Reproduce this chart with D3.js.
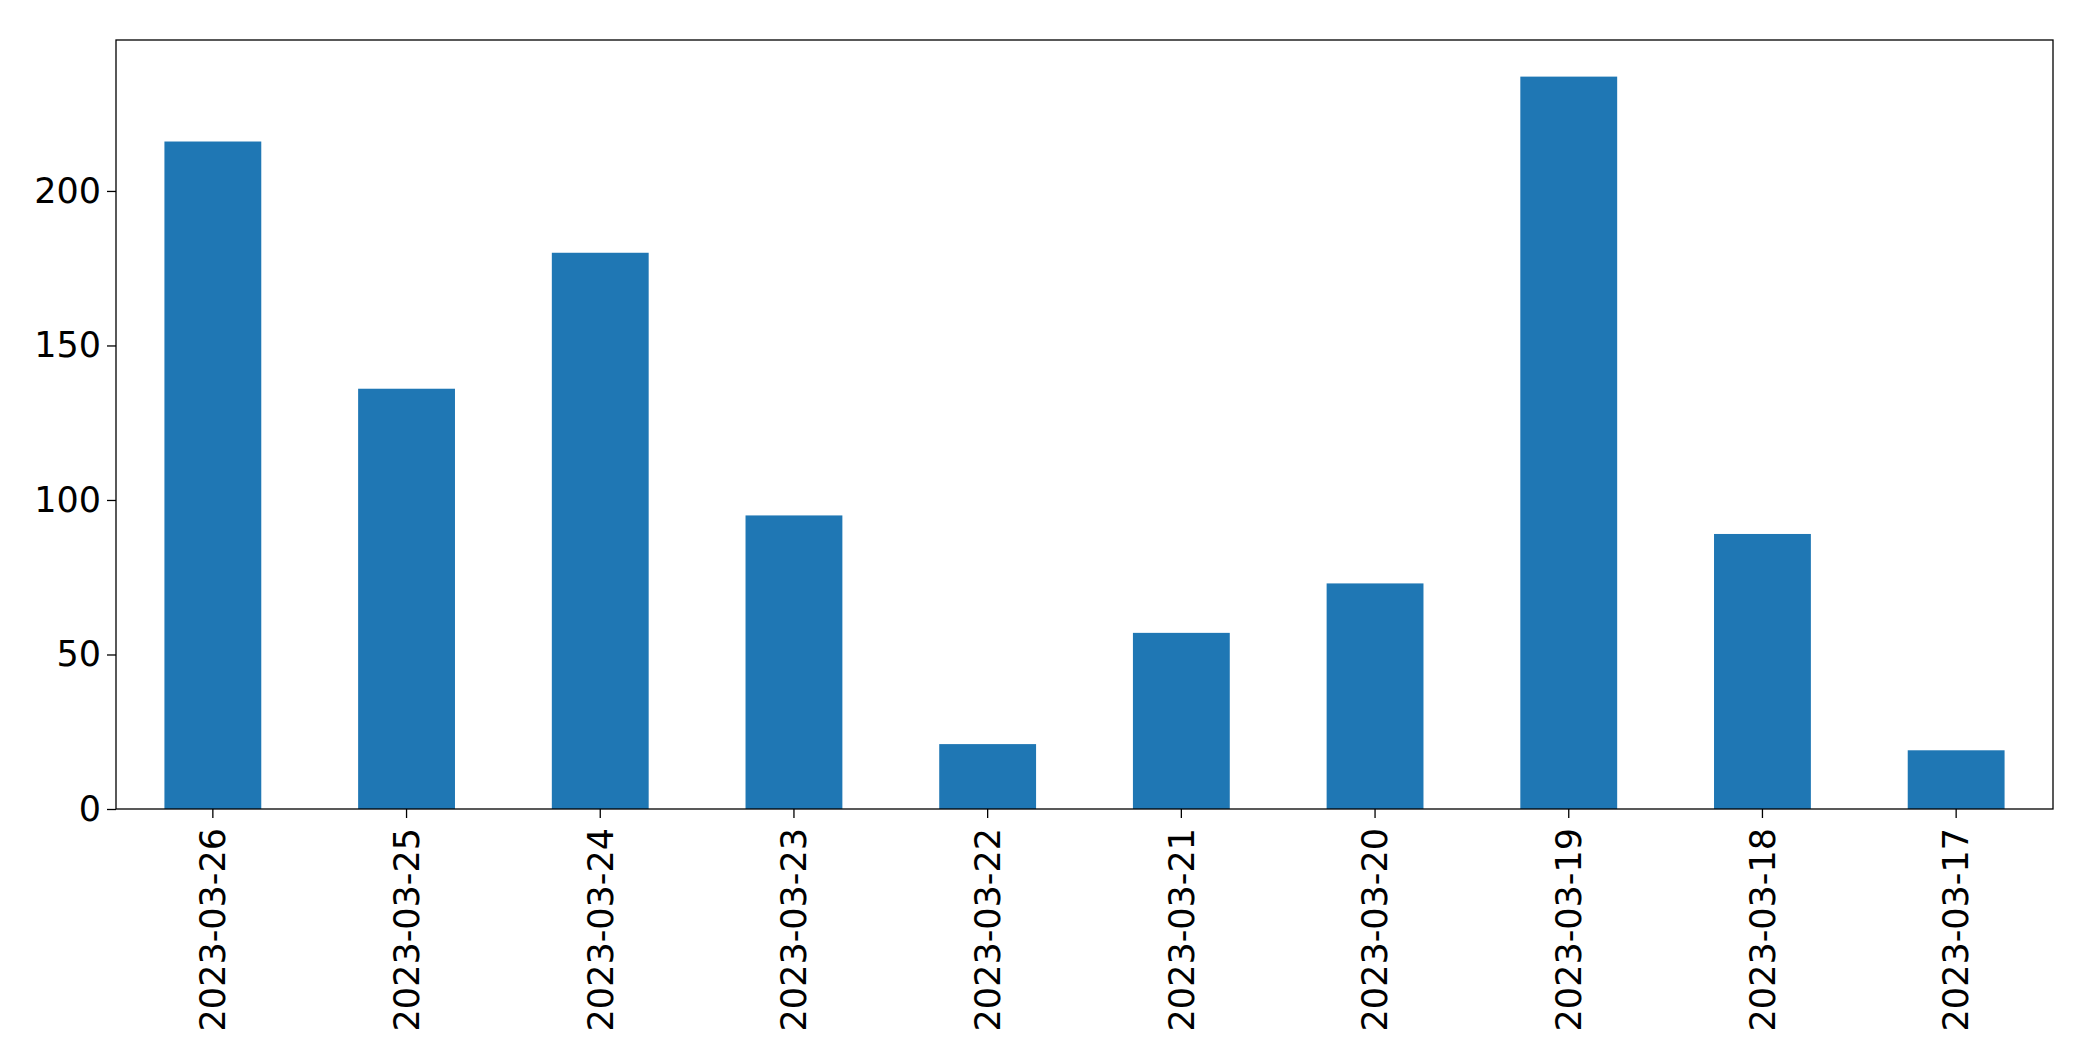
<!DOCTYPE html>
<html><head><meta charset="utf-8">
<script src="https://cdn.jsdelivr.net/npm/d3@7"></script>
<style>body{margin:0;background:#fff}text{font-family:"DejaVu Sans",sans-serif}</style>
</head><body>
<script>
const dates = ['2023-03-26','2023-03-25','2023-03-24','2023-03-23','2023-03-22','2023-03-21','2023-03-20','2023-03-19','2023-03-18','2023-03-17'];
const counts = [216, 136, 180, 95, 21, 57, 73, 237, 89, 19];
const yTicks = [0, 50, 100, 150, 200];

const W = 2093, H = 1061;
const margin = {top: 40, left: 116, right: 40, bottom: 252};
const width = W - margin.left - margin.right, height = H - margin.top - margin.bottom;

const svg = d3.select('body').append('svg').attr('width', W).attr('height', H);
const chart = svg.append('g').attr('transform', `translate(${margin.left}, ${margin.top})`);

const xScale = d3.scaleBand().domain(dates).range([0, width]).paddingInner(0.5).paddingOuter(0.25);
const yScale = d3.scaleLinear().domain([0, d3.max(counts) * 1.05]).range([height, 0]);

chart.selectAll('rect').data(counts).enter().append('rect')
  .attr('x', (d, i) => xScale(dates[i]))
  .attr('y', d => yScale(d))
  .attr('width', xScale.bandwidth())
  .attr('height', d => height - yScale(d))
  .attr('fill', '#1f77b4');

chart.append('rect').attr('width', width).attr('height', height)
  .attr('fill', 'none').attr('stroke', '#000').attr('stroke-width', 1.3);

const yAxis = chart.append('g').call(d3.axisLeft(yScale).tickValues(yTicks).tickSize(9).tickPadding(6));
const xAxis = chart.append('g').attr('transform', `translate(0, ${height})`)
  .call(d3.axisBottom(xScale).tickSize(9).tickPadding(6));
[yAxis, xAxis].forEach(a => {
  a.select('.domain').remove();
  a.selectAll('line').attr('stroke', '#000').attr('stroke-width', 1.3);
  a.selectAll('text').attr('fill', '#000').style('font-size', '35px');
});
xAxis.selectAll('text')
  .attr('transform', 'rotate(-90)')
  .attr('text-anchor', 'end')
  .attr('dx', '-0.2em').attr('dy', '0.35em')
  .attr('x', -12).attr('y', 0);
</script>
</body></html>
